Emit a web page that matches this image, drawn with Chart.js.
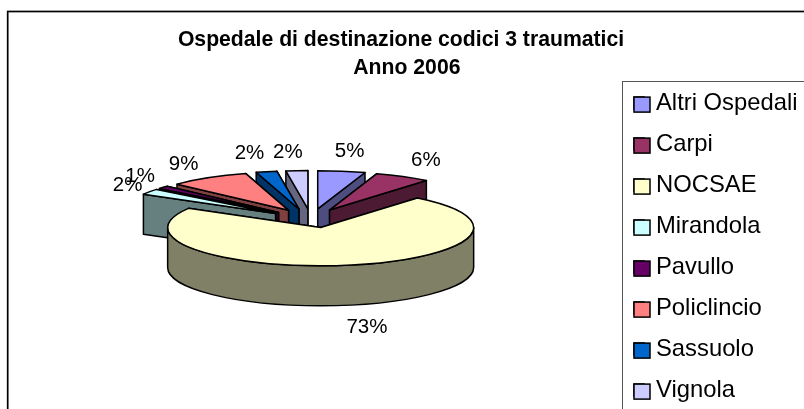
<!DOCTYPE html>
<html>
<head>
<meta charset="utf-8">
<style>
  html, body { margin: 0; padding: 0; background: #fff; overflow: hidden; }
  canvas { display: block; }
</style>
<script src="https://cdn.jsdelivr.net/npm/chart.js@4"></script>
</head>
<body>
<canvas id="pie" width="804" height="409"></canvas>
<script>
const titleLines = ['Ospedale di destinazione codici 3 traumatici', '\u00A0\u00A0Anno 2006'];
const categories = ['Altri Ospedali', 'Carpi', 'NOCSAE', 'Mirandola', 'Pavullo', 'Policlincio', 'Sassuolo', 'Vignola'];
const shares = [5, 5.9, 72.5, 2.4, 1.2, 8.5, 2.2, 2.3];
const topColors = ['#9999FF', '#993366', '#FFFFCC', '#CCFFFF', '#660066', '#FF8080', '#0066CC', '#CCCCFF'];
const wallColors = ['#4D4D80', '#4D1A33', '#808066', '#668080', '#330033', '#804040', '#003366', '#666680'];

// look of the tilted pie
const squash = 0.25;
const depth = 40;
const explode = 43;
// back slices first, the big front one last
const paintOrder = [0, 7, 1, 6, 5, 4, 3, 2];
// small per slice corrections, the original has some perspective
const sliceNudge = [[0, 0], [-2, 0], [2, -2.5], [0, 0], [0, 0], [0, 0], [-3, 0], [0, 0]];
// percent labels: shift from the rim point at the middle of the slice
const labelShift = [[8, -20], [21, -16], [21, 60], [-22, -6], [-23, -11], [-25, -13], [-20, -18], [-9, -18]];

function drawSlice(ctx, arc, i) {
    const r = arc.outerRadius;
    const a0 = arc.startAngle;
    const a1 = arc.endAngle;
    const mid = (a0 + a1) / 2;
    const cx = arc.x + Math.cos(mid) * explode + sliceNudge[i][0];
    const cy = arc.y + Math.sin(mid) * explode * squash + sliceNudge[i][1];
    const rimX = a => cx + Math.cos(a) * r;
    const rimY = a => cy + Math.sin(a) * r * squash;

    ctx.lineWidth = 1.5;
    ctx.lineJoin = 'round';
    ctx.strokeStyle = '#000';

    // the two cut faces, the one further back first
    ctx.fillStyle = wallColors[i];
    [a0, a1].sort((p, q) => rimY(p) - rimY(q)).forEach(a => {
        ctx.beginPath();
        ctx.moveTo(cx, cy);
        ctx.lineTo(rimX(a), rimY(a));
        ctx.lineTo(rimX(a), rimY(a) + depth);
        ctx.lineTo(cx, cy + depth);
        ctx.closePath();
        ctx.fill();
        ctx.stroke();
    });

    // rim wall, only the part turned to the viewer
    const lo = Math.max(a0, 0);
    const hi = Math.min(a1, Math.PI);
    if (lo < hi) {
        ctx.beginPath();
        ctx.ellipse(cx, cy, r, r * squash, 0, lo, hi);
        ctx.ellipse(cx, cy + depth, r, r * squash, 0, hi, lo, true);
        ctx.closePath();
        ctx.fill();
        ctx.stroke();
    }

    // top face
    ctx.fillStyle = topColors[i];
    ctx.beginPath();
    ctx.moveTo(cx, cy);
    ctx.ellipse(cx, cy, r, r * squash, 0, a0, a1);
    ctx.closePath();
    ctx.fill();
    ctx.stroke();
}

const tiltedPie = {
    id: 'tiltedPie',
    afterLayout(chart) {
        // same places as the spreadsheet chart: plot on the left, legend cut by the window
        chart.chartArea.left = 0;
        chart.chartArea.right = 622;
        chart.chartArea.top = 81;
        chart.chartArea.bottom = 358;
        chart.titleBlock.left += 401 - (chart.titleBlock.left + chart.titleBlock.right) / 2;
        chart.titleBlock.right = chart.titleBlock.left + chart.width;
        chart.titleBlock.top = 26;
        const w = chart.legend.width;
        chart.legend.left = 616.8;
        chart.legend.right = chart.legend.left + w;
        chart.legend.top = 73.9;
        chart.legend.bottom = 440;
    },
    beforeDraw(chart) {
        const ctx = chart.ctx;
        ctx.save();
        ctx.fillStyle = '#fff';
        ctx.fillRect(0, 0, chart.width, chart.height);
        ctx.strokeStyle = '#000';
        ctx.lineWidth = 1.7;
        ctx.strokeRect(7.7, 11.5, chart.width + 20, chart.height + 20);
        ctx.strokeStyle = '#555';
        ctx.lineWidth = 1;
        ctx.strokeRect(622.5, 81.5, chart.width, chart.height);
        ctx.restore();
    },
    beforeDatasetDraw(chart) {
        const ctx = chart.ctx;
        const arcs = chart.getDatasetMeta(0).data;
        ctx.save();
        paintOrder.forEach(i => drawSlice(ctx, arcs[i], i));

        ctx.fillStyle = '#000';
        ctx.font = '20.5px "Liberation Sans"';
        ctx.textAlign = 'center';
        ctx.textBaseline = 'middle';
        arcs.forEach((arc, i) => {
            const mid = (arc.startAngle + arc.endAngle) / 2;
            const x = arc.x + Math.cos(mid) * (explode + arc.outerRadius);
            const y = arc.y + Math.sin(mid) * (explode + arc.outerRadius) * squash;
            ctx.fillText(Math.round(shares[i]) + '%', x + labelShift[i][0], y + labelShift[i][1]);
        });
        ctx.restore();
        return false;
    },
    afterDraw(chart) {
        // legend swatches are wider than the gap to the text allows, so paint them over
        const ctx = chart.ctx;
        const labelOpts = chart.legend.options.labels;
        const rowTop = chart.legend.top + labelOpts.padding;
        const rowStep = labelOpts.font.size + labelOpts.padding;
        ctx.save();
        ctx.lineWidth = 1.5;
        ctx.strokeStyle = '#000';
        categories.forEach((name, i) => {
            const y = rowTop + i * rowStep + 6;
            ctx.fillStyle = topColors[i];
            ctx.fillRect(634, y, 16, 15);
            ctx.strokeRect(634, y, 16, 15);
        });
        ctx.restore();
    }
};

new Chart(document.getElementById('pie'), {
    type: 'pie',
    data: {
        labels: categories,
        datasets: [{
            data: shares,
            backgroundColor: topColors,
            borderColor: '#000',
            borderWidth: 1.5
        }]
    },
    options: {
        responsive: false,
        animation: false,
        radius: 153,
        plugins: {
            tooltip: { enabled: false },
            title: {
                display: true,
                text: titleLines,
                color: '#000',
                font: { family: '"Liberation Sans"', size: 21.2, weight: 'bold', lineHeight: 1.32 },
                padding: 0
            },
            legend: {
                position: 'right',
                align: 'start',
                labels: {
                    color: '#000',
                    font: { family: '"Liberation Sans"', size: 23.8 },
                    boxWidth: 10.1,
                    boxHeight: 12,
                    padding: 17.2
                }
            }
        }
    },
    plugins: [tiltedPie]
});
</script>
</body>
</html>
